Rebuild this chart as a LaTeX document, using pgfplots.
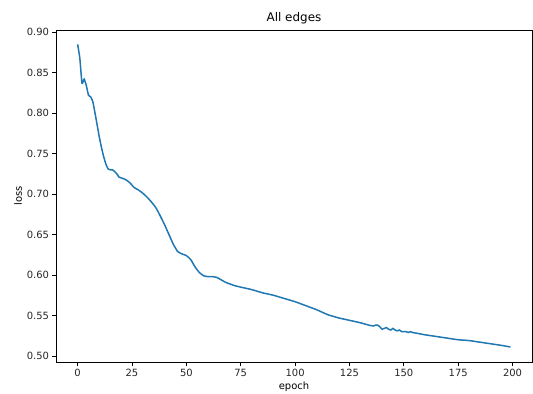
\documentclass[border=0pt]{standalone}
\usepackage{pgfplots}
\pgfplotsset{compat=1.18}
\usepackage{fontspec}
\setmainfont{DejaVu Sans}
\definecolor{mplblue}{HTML}{1F77B4}
\begin{document}
\begin{tikzpicture}
\useasboundingbox (-56bp,-32bp) rectangle (477bp,362bp);
\begin{axis}[
  at={(0,0)}, anchor=south west,
  scale only axis, width=476bp, height=332bp,
  xmin=-9.95, xmax=208.95, ymin=0.4925, ymax=0.9027,
  xtick={0,25,...,200},
  ytick={0.50,0.55,0.60,0.65,0.70,0.75,0.80,0.85,0.90},
  yticklabel style={/pgf/number format/.cd,fixed,fixed zerofill,precision=2},
  /pgf/number format/assume math mode=true,
  tick align=outside, tick pos=left,
  major tick length=3.5bp,
  every tick/.style={black, line width=0.8bp},
  axis line style={line width=0.8bp},
  ticklabel style={font=\fontsize{10}{12}\selectfont, color=black!85},
  xlabel={epoch}, ylabel={loss},
  label style={font=\fontsize{10}{12}\selectfont},
  xlabel style={yshift=1bp},
  ylabel style={yshift=-2bp},
  title={All edges},
  title style={font=\fontsize{12}{14}\selectfont, yshift=-3bp},
]
\addplot[mplblue, line width=1.5bp, smooth, tension=0.3] coordinates {
(0,0.885) (1,0.868) (2,0.837) (3,0.842) (4,0.834) (5,0.822) (6,0.820) (7,0.814)
(8,0.800) (9,0.785) (10,0.770) (11,0.757) (12,0.746) (13,0.737) (14,0.731)
(15,0.730) (16,0.730) (17,0.728) (18,0.725) (19,0.721) (20,0.720) (22,0.718)
(24,0.714) (26,0.708) (28,0.705) (30,0.701) (32,0.696) (34,0.690) (36,0.683)
(38,0.673) (40,0.662) (42,0.650) (44,0.638) (46,0.629) (48,0.626) (50,0.624)
(52,0.619) (54,0.610) (56,0.603) (58,0.599) (60,0.598) (62,0.598) (64,0.597)
(66,0.594) (68,0.591) (70,0.589) (72,0.587) (75,0.585) (80,0.582) (85,0.578)
(90,0.575) (95,0.571) (100,0.567) (105,0.562) (110,0.557) (115,0.551)
(120,0.547) (125,0.544) (130,0.541) (134,0.538) (136,0.537) (137,0.538)
(138,0.538) (139,0.536) (140,0.533) (141,0.534) (142,0.535) (143,0.533)
(144,0.532) (145,0.534) (146,0.532) (147,0.531) (148,0.532) (149,0.530)
(150,0.530) (151,0.530) (152,0.529) (153,0.530) (154,0.529) (156,0.528) (158,0.527)
(160,0.526) (165,0.524) (170,0.522) (175,0.520) (180,0.519) (185,0.517)
(190,0.515) (195,0.513) (199,0.511)
};
\end{axis}
\end{tikzpicture}
\end{document}
